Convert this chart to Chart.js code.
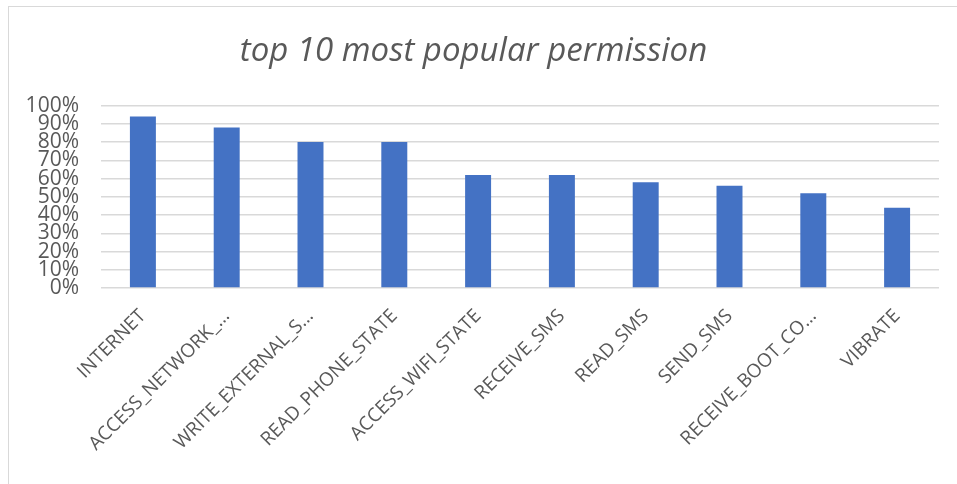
<!DOCTYPE html>
<html>
<head>
<meta charset="utf-8">
<script src="https://cdn.jsdelivr.net/npm/chart.js@4"></script>
<style>
    body { margin: 0; background: #fff; overflow: hidden; }
    .frame { position: absolute; left: 8px; top: 6px; width: 1200px; height: 800px; border: 1px solid #d9d9d9; }
    .wrap { position: absolute; left: 0; top: 0; width: 957px; height: 484px; }
</style>
</head>
<body>
<div class="frame"></div>
<div class="wrap"><canvas id="chart-permission"></canvas></div>
<script>
// permission names as shown (Excel truncates the long ones)
const arrPermission = [
    'INTERNET',
    'ACCESS_NETWORK_…',
    'WRITE_EXTERNAL_S…',
    'READ_PHONE_STATE',
    'ACCESS_WIFI_STATE',
    'RECEIVE_SMS',
    'READ_SMS',
    'SEND_SMS',
    'RECEIVE_BOOT_CO…',
    'VIBRATE'
];
// share of apps using each permission, in %
const arrPhanTram = [94, 88, 80, 80, 62, 62, 58, 56, 52, 44];
const yMin = 0;
const yMax = 100;
const yStep = 10;

const textColor = '#595959';
const fontName = "'Open Sans', 'DejaVu Sans', sans-serif";

const ctx = document.getElementById('chart-permission');
const permissionChart = new Chart(ctx, {
    type: 'bar',
    data: {
        labels: arrPermission,
        datasets: [{
            data: arrPhanTram,
            backgroundColor: '#4472c4',
            borderWidth: 0,
            categoryPercentage: 1,
            barPercentage: 0.31
        }]
    },
    options: {
        responsive: true,
        maintainAspectRatio: false,
        animation: false,
        layout: {
            padding: { left: 8, right: 18, top: 0, bottom: 0 }
        },
        plugins: {
            legend: { display: false },
            tooltip: { enabled: false },
            title: {
                display: true,
                text: 'top 10 most popular permission',
                color: textColor,
                font: { family: fontName, size: 33, style: 'italic', weight: 'normal', lineHeight: 1.2 },
                padding: { top: 32, bottom: 34 }
            }
        },
        scales: {
            x: {
                grid: { display: false },
                border: { display: false },
                ticks: {
                    color: textColor,
                    font: { family: fontName, size: 19 },
                    maxRotation: 45,
                    minRotation: 45,
                    autoSkip: false,
                    padding: 9
                },
                afterFit: function (scale) {
                    scale.height = 196;
                }
            },
            y: {
                min: yMin,
                max: yMax,
                grid: { color: '#d9d9d9', lineWidth: 1.5, drawTicks: false },
                border: { display: false },
                ticks: {
                    stepSize: yStep,
                    autoSkip: false,
                    color: textColor,
                    font: { family: fontName, size: 21, lineHeight: 1 },
                    padding: 22,
                    callback: function (value) {
                        return value + '%';
                    }
                },
                afterFit: function (scale) {
                    scale.width = 93;
                }
            }
        }
    }
});
</script>
</body>
</html>
